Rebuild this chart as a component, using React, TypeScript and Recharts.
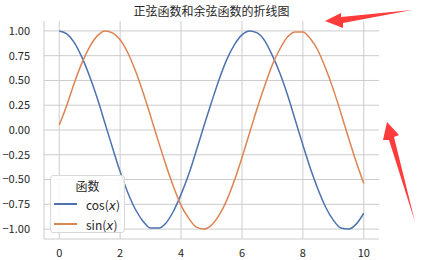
import React from 'react';
import { LineChart, Line, XAxis, YAxis, CartesianGrid } from 'recharts';

const xValues = [0,0.25,0.5,0.75,1,1.25,1.5,1.75,2,2.25,2.5,2.75,3,3.25,3.5,3.75,4,4.25,4.5,4.75,5,5.25,5.5,5.75,6,6.25,6.5,6.75,7,7.25,7.5,7.75,8,8.25,8.5,8.75,9,9.25,9.5,9.75,10];
const cosValues = [1.00,0.97,0.88,0.73,0.54,0.32,0.07,-0.18,-0.42,-0.63,-0.80,-0.92,-0.99,-0.99,-0.94,-0.82,-0.65,-0.45,-0.21,0.04,0.28,0.51,0.71,0.86,0.96,1.00,0.98,0.90,0.75,0.57,0.35,0.10,-0.15,-0.39,-0.60,-0.78,-0.91,-0.99,-1.00,-0.95,-0.84];
const sinValues = [0.05,0.25,0.48,0.68,0.84,0.95,1.00,0.98,0.91,0.78,0.60,0.38,0.14,-0.11,-0.35,-0.57,-0.76,-0.89,-0.98,-1.00,-0.96,-0.86,-0.71,-0.51,-0.28,-0.03,0.22,0.45,0.66,0.82,0.94,0.99,0.99,0.92,0.80,0.62,0.41,0.17,-0.08,-0.32,-0.54];
const xTicks = [0,2,4,6,8,10];
const yTicks = [-1,-0.75,-0.5,-0.25,0,0.25,0.5,0.75,1];
const xDomain = [-0.5, 10.5];
const yDomain = [-1.1, 1.1];
const seriesFns = ['cos', 'sin'];
const title = '正弦函数和余弦函数的折线图';
const legendTitle = '函数';

const data = xValues.map((x, i) => ({ x, cos: cosValues[i], sin: sinValues[i] }));

const BLUE = '#4c72b0';
const ORANGE = '#dd8452';
const GRID = '#cccccc';
const FONT = '"Noto Sans CJK SC", "DejaVu Sans", sans-serif';

const fmtY = (v: number) => v.toFixed(2).replace('-', '\u2212');

const hGen = (args: any) => {
  const s = args?.yAxis?.scale;
  if (typeof s === 'function') return yTicks.map((t) => s(t));
  const { top, height } = args.offset;
  return yTicks.map((t) => top + ((yDomain[1] - t) / (yDomain[1] - yDomain[0])) * height);
};
const vGen = (args: any) => {
  const s = args?.xAxis?.scale;
  if (typeof s === 'function') return xTicks.map((t) => s(t));
  const { left, width } = args.offset;
  return xTicks.map((t) => left + ((t - xDomain[0]) / (xDomain[1] - xDomain[0])) * width);
};

const LegendBox = () => (
  <div style={{
    position: 'absolute', left: 50, top: 175,
    border: '1px solid #d8d8d8', borderRadius: 3, background: 'rgba(255,255,255,0.85)',
    width: 75, height: 58, fontFamily: FONT, fontSize: 12, color: '#262626', boxSizing: 'border-box',
  }}>
    <div style={{ textAlign: 'center', marginTop: 1, height: 17, lineHeight: '17px' }}>{legendTitle}</div>
    {[BLUE, ORANGE].map((c, i) => (
      <div key={i} style={{ display: 'flex', alignItems: 'center', height: 20 }}>
        <div style={{ width: 23, height: 2, background: c, marginLeft: 3, marginRight: 9 }} />
        <span>{seriesFns[i]}(<i style={{ fontFamily: '"DejaVu Sans"' }}>x</i>)</span>
      </div>
    ))}
  </div>
);

export default function App() {
  return (
    <div style={{ position: 'absolute', left: 0, top: 0, width: 424, height: 260, background: '#fff' }}>
      <div style={{ position: 'absolute', left: 44, width: 335, top: 2, textAlign: 'center', fontFamily: FONT, fontSize: 12, color: '#262626' }}>
        {title}
      </div>
      <LineChart width={424} height={260} data={data} margin={{ top: 21, right: 45, left: 0, bottom: 0 }}>
        <CartesianGrid stroke={GRID} strokeWidth={1}
          horizontalCoordinatesGenerator={hGen} verticalCoordinatesGenerator={vGen} />
        <XAxis dataKey="x" type="number" domain={xDomain} ticks={xTicks} height={21}
          tickLine={false} axisLine={{ stroke: GRID }} tick={{ fill: '#262626', fontSize: 11, fontFamily: FONT }} tickMargin={4} />
        <YAxis type="number" domain={yDomain} ticks={yTicks} width={44} tickFormatter={fmtY}
          tickLine={false} axisLine={{ stroke: GRID }} tick={{ fill: '#262626', fontSize: 11, fontFamily: FONT }} tickMargin={8} />
        <Line type="monotone" dataKey="cos" stroke={BLUE} strokeWidth={1.5} dot={false} isAnimationActive={false} />
        <Line type="monotone" dataKey="sin" stroke={ORANGE} strokeWidth={1.5} dot={false} isAnimationActive={false} />
      </LineChart>
      <LegendBox />
      <svg width={424} height={260} style={{ position: 'absolute', left: 0, top: 0, pointerEvents: 'none' }}>
        <polygon points="325,21 341,13 341,17 412,10 343,23 343,28" fill="#ff3b3b" />
        <polygon points="387,122 399,135 394,137 415,222 389,140 383,140" fill="#ff3b3b" />
      </svg>
    </div>
  );
}
